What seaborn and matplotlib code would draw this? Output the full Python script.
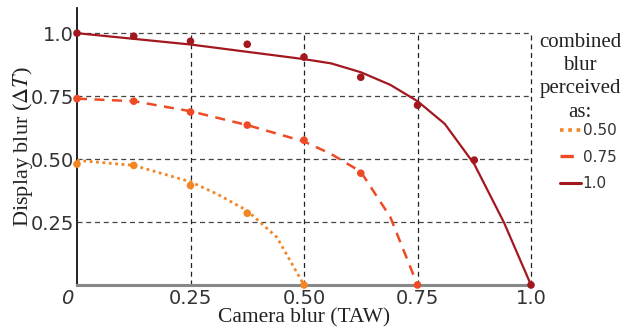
import matplotlib
matplotlib.use("Agg")
import matplotlib.pyplot as plt
import matplotlib.transforms as mtransforms
from matplotlib.lines import Line2D
import seaborn as sns
import pandas as pd

# ---- data ----
levels = ["0.50", "0.75", "1.0"]
colors = ["#f28524", "#ee4a24", "#a3181f"]

pts_x_050 = [0.0, 0.125, 0.25, 0.375, 0.5]
pts_y_050 = [0.48, 0.475, 0.395, 0.285, 0.0]
pts_x_075 = [0.0, 0.125, 0.25, 0.375, 0.5, 0.625, 0.75]
pts_y_075 = [0.74, 0.73, 0.687, 0.635, 0.575, 0.444, 0.0]
pts_x_100 = [0.0, 0.125, 0.25, 0.375, 0.5, 0.625, 0.75, 0.875, 1.0]
pts_y_100 = [1.0, 0.988, 0.968, 0.956, 0.905, 0.825, 0.714, 0.496, 0.0]

fit_x_050 = [0.0, 0.125, 0.25, 0.31, 0.375, 0.44, 0.5]
fit_y_050 = [0.495, 0.475, 0.41, 0.36, 0.295, 0.19, 0.0]
fit_x_075 = [0.0, 0.125, 0.25, 0.375, 0.5, 0.56, 0.625, 0.69, 0.75]
fit_y_075 = [0.74, 0.73, 0.69, 0.635, 0.57, 0.52, 0.45, 0.27, 0.0]
fit_x_100 = [0.0, 0.25, 0.5, 0.56, 0.625, 0.69, 0.75, 0.81, 0.875, 0.94, 1.0]
fit_y_100 = [1.0, 0.955, 0.897, 0.88, 0.845, 0.795, 0.73, 0.64, 0.48, 0.25, 0.0]

grid_vals = [0.25, 0.5, 0.75, 1.0]
ytick_labels = ["0.25", "0.50", "0.75", "1.0"]
xtick_vals = [0.0, 0.25, 0.5, 0.75, 1.0]
xtick_labels = ["0", "0.25", "0.50", "0.75", "1.0"]
legend_title = "combined\nblur\nperceived\nas:"

pts = pd.DataFrame({
    "x": pts_x_050 + pts_x_075 + pts_x_100,
    "y": pts_y_050 + pts_y_075 + pts_y_100,
    "level": [levels[0]] * len(pts_x_050) + [levels[1]] * len(pts_x_075) + [levels[2]] * len(pts_x_100),
})
fits = [(fit_x_050, fit_y_050), (fit_x_075, fit_y_075), (fit_x_100, fit_y_100)]
styles = [(0, (1, 1.3)), (0, (4, 3)), "-"]
widths = [2.0, 1.8, 1.6]

sns.set_theme(style="white")
plt.rcParams["mathtext.fontset"] = "stix"

fig = plt.figure(figsize=(6.27, 3.27), dpi=100)
ax = fig.add_axes([77 / 627, 42 / 327, 454 / 627, 277 / 327])

# grid lines (dashed)
ax.hlines(grid_vals, 0, 1.0, colors="#444444", linestyles=(0, (4, 3)), linewidth=0.9, zorder=1, clip_on=False)
ax.vlines(grid_vals, 0, 1.0, colors="#222222", linestyles=(0, (4, 3)), linewidth=0.9, zorder=1, clip_on=False)

for (fx, fy), c, ls, lw in zip(fits, colors, styles, widths):
    df = pd.DataFrame({"x": fx, "y": fy})
    sns.lineplot(data=df, x="x", y="y", ax=ax, color=c, linestyle=ls, linewidth=lw,
                 sort=False, estimator=None, zorder=3, clip_on=False)

sns.scatterplot(data=pts, x="x", y="y", hue="level", palette=dict(zip(levels, colors)),
                ax=ax, s=30, edgecolor="none", legend=False, zorder=4, clip_on=False)

ax.set_xlim(0, 1.0)
ax.set_ylim(0, 1.1)

for s in ["top", "right"]:
    ax.spines[s].set_visible(False)
ax.spines["left"].set_color("#111111")
ax.spines["left"].set_linewidth(1.3)
ax.spines["bottom"].set_color("#888888")
ax.spines["bottom"].set_linewidth(2.2)

ax.set_yticks(grid_vals)
ax.set_yticklabels(ytick_labels, fontsize=14, color="#333333")
ax.set_xticks(xtick_vals)
ax.set_xticklabels(xtick_labels, fontsize=14, color="#333333")
ax.tick_params(axis="both", length=0)
ax.tick_params(axis="y", pad=2)
ax.tick_params(axis="x", pad=3)

lab0 = ax.get_xticklabels()[0]
lab0.set_style("italic")
lab0.set_transform(lab0.get_transform() + mtransforms.ScaledTranslation(-10 / 100, 0, fig.dpi_scale_trans))

ax.set_xlabel("Camera blur (TAW)", family="Liberation Serif", fontsize=15.5, color="#222222", labelpad=0)
ax.set_ylabel(r"Display blur ($\Delta T$)", family="Liberation Serif", fontsize=16, color="#222222", labelpad=-3)

fig.text(580 / 627, 1 - 33 / 327, legend_title, family="Liberation Serif", fontsize=15,
         ha="center", va="top", multialignment="center", linespacing=1.3, color="#222222")

handles = [Line2D([0], [0], color=c, linestyle=ls, linewidth=lw + 0.6) for c, ls, lw in zip(colors, styles, widths)]
leg = fig.legend(handles, levels, loc="upper center", bbox_to_anchor=(588 / 627, 1 - 117 / 327),
                 frameon=False, prop={"size": 11}, handlelength=1.4, handletextpad=0.1,
                 labelspacing=0.75, borderaxespad=0)
for t in leg.get_texts():
    t.set_color("#333333")

fig.savefig("out.png", dpi=100)
